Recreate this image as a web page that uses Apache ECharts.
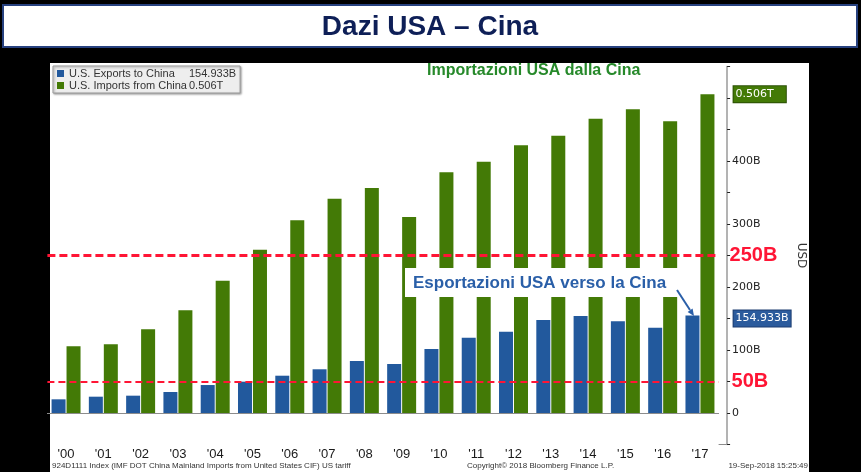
<!DOCTYPE html>
<html>
<head>
<meta charset="utf-8">
<script src="https://cdn.jsdelivr.net/npm/echarts@6/dist/echarts.min.js"></script>
<style>
  html, body { margin: 0; padding: 0; background: #000; }
  #main { width: 861px; height: 472px; }
</style>
</head>
<body>
<div id="main"></div>
<script>
// values, billions of USD
var years = ["'00", "'01", "'02", "'03", "'04", "'05", "'06", "'07", "'08", "'09",
             "'10", "'11", "'12", "'13", "'14", "'15", "'16", "'17"];
var exportsToChina = [21.7, 25.9, 27.5, 33.3, 44.4, 49.7, 59.2, 69.4, 82.5, 77.8,
                      101.6, 119.5, 129, 147.6, 154, 145.6, 135.4, 154.933];
var importsFromChina = [106, 109, 133, 163, 210, 259, 306, 340, 357, 311,
                        382, 399, 425, 440, 467, 482, 463, 506];
var tickLabels = [0, 100, 200, 300, 400];
var refLevels = [250, 50];
var lastExport = '154.933B';
var lastImport = '0.506T';

var blue = '#22599d';
var green = '#437a06';
var red = '#ff1535';
var hidden = { color: 'rgba(0,0,0,0)', width: 0 };

var chart = echarts.init(document.getElementById('main'));
chart.setOption({
  backgroundColor: '#000',
  animation: false,
  textStyle: { fontFamily: 'Liberation Sans' },
  grid: { left: 47.4, right: 142.4, top: 66.5, bottom: 27.5 },
  legend: {
    left: 53,
    top: 66,
    orient: 'vertical',
    selectedMode: false,
    icon: 'rect',
    itemWidth: 7,
    itemHeight: 7,
    itemGap: 1,
    padding: [2, 4],
    backgroundColor: '#eeeeee',
    borderColor: '#9a9a9a',
    borderWidth: 1,
    shadowColor: 'rgba(0,0,0,0.35)',
    shadowBlur: 2,
    shadowOffsetX: 1,
    shadowOffsetY: 1,
    formatter: function (name) {
      var v = name.indexOf('Exports') >= 0 ? lastExport : lastImport;
      return '{n|' + name + '}{v|' + v + '}';
    },
    textStyle: {
      color: '#333',
      fontSize: 11,
      lineHeight: 11,
      rich: {
        n: { width: 120, fontSize: 11, color: '#333' },
        v: { width: 46, fontSize: 11, color: '#333' }
      }
    },
    data: ['U.S. Exports to China', 'U.S. Imports from China']
  },
  xAxis: {
    type: 'category',
    data: years,
    axisLine: { lineStyle: { color: '#8c8c8c', width: 1 } },
    axisTick: { show: false },
    axisLabel: { color: '#1a1a1a', fontSize: 13, margin: 3 }
  },
  yAxis: {
    type: 'value',
    position: 'right',
    offset: 8.5,
    min: -50,
    max: 550,
    interval: 50,
    splitLine: { show: false },
    axisLine: { show: true, lineStyle: { color: '#9a9a9a', width: 1.5 } },
    axisTick: { show: true, length: 3, lineStyle: { color: '#222' } },
    axisLabel: {
      color: '#222',
      fontSize: 11,
      fontFamily: 'DejaVu Sans',
      margin: 5,
      formatter: function (v) {
        if (tickLabels.indexOf(v) < 0) return '';
        return v === 0 ? '0' : v + 'B';
      }
    },
    name: 'USD',
    nameLocation: 'middle',
    nameRotate: -90,
    nameGap: 68,
    nameTextStyle: { color: '#333', fontSize: 12, fontFamily: 'DejaVu Sans' }
  },
  series: [{
    name: 'U.S. Exports to China',
    type: 'bar',
    data: exportsToChina,
    barWidth: 14,
    barGap: '7%',
    itemStyle: { color: blue },
    markLine: {
      silent: true,
      symbol: ['none', 'none'],
      lineStyle: hidden,
      label: {
        position: 'end',
        distance: 15,
        offset: [0, 3],
        formatter: lastExport,
        color: '#fff',
        fontSize: 11,
        fontFamily: 'DejaVu Sans',
        backgroundColor: '#2b5b9d',
        borderColor: '#1c3d70',
        borderWidth: 1,
        padding: [3, 2, 2, 2]
      },
      data: [{ yAxis: exportsToChina[exportsToChina.length - 1] }]
    }
  }, {
    name: 'U.S. Imports from China',
    type: 'bar',
    data: importsFromChina,
    barWidth: 14,
    itemStyle: { color: green },
    markLine: {
      silent: true,
      symbol: ['none', 'none'],
      data: [{
        yAxis: importsFromChina[importsFromChina.length - 1],
        lineStyle: hidden,
        label: {
          position: 'end',
          distance: 15,
          formatter: lastImport,
          color: '#fff',
          fontSize: 11,
          fontFamily: 'DejaVu Sans',
          backgroundColor: green,
          borderColor: '#2a4f04',
          borderWidth: 1,
          padding: [3, 12, 2, 2]
        }
      }, {
        yAxis: refLevels[0],
        lineStyle: { color: red, width: 3, type: [8, 4] },
        label: { position: 'end', distance: 11, formatter: refLevels[0] + 'B', color: red, fontSize: 20, fontWeight: 'bold' }
      }, {
        yAxis: refLevels[1],
        lineStyle: { color: red, width: 2, type: [7, 4] },
        label: { position: 'end', distance: 13, formatter: refLevels[1] + 'B', color: red, fontSize: 20, fontWeight: 'bold' }
      }]
    }
  }],
  graphic: [
    { type: 'rect', z: -1, shape: { x: 50, y: 63, width: 759, height: 409 }, style: { fill: '#fff' } },
    { type: 'rect', shape: { x: 3, y: 5, width: 854, height: 42 }, style: { fill: '#fff', stroke: '#27417f', lineWidth: 2 } },
    { type: 'text', style: { text: 'Dazi USA – Cina', x: 430, y: 27, textAlign: 'center', textVerticalAlign: 'middle',
        font: 'bold 28px "Liberation Sans Narrow", "Liberation Sans"', fill: '#0e1f57' } },
    { type: 'text', style: { text: 'Importazioni USA dalla Cina', x: 427, y: 71, textVerticalAlign: 'middle',
        font: 'bold 16px "Liberation Sans"', fill: '#26892a' } },
    { type: 'line', shape: { x1: 718.6, y1: 444.5, x2: 727, y2: 444.5 }, style: { stroke: '#8c8c8c', lineWidth: 1 } },
    { type: 'rect', z: 50, shape: { x: 405, y: 268, width: 293, height: 29 }, style: { fill: '#fff' } },
    { type: 'text', z: 51, style: { text: 'Esportazioni USA verso la Cina', x: 413, y: 283, textVerticalAlign: 'middle',
        font: 'bold 17px "Liberation Sans"', fill: '#2a5fa8' } },
    { type: 'line', z: 51, shape: { x1: 677, y1: 290, x2: 690, y2: 310 }, style: { stroke: '#2a5fa8', lineWidth: 2 } },
    { type: 'polygon', z: 51, shape: { points: [[694, 316], [692.6, 308.6], [687.6, 311.9]] }, style: { fill: '#2a5fa8' } },
    { type: 'text', style: { text: '924D1111 Index (IMF DOT China Mainland Imports from United States CIF) US tariff', x: 52, y: 466,
        textVerticalAlign: 'middle', font: '8px "Liberation Sans"', fill: '#333' } },
    { type: 'text', style: { text: 'Copyright© 2018 Bloomberg Finance L.P.', x: 467, y: 466,
        textVerticalAlign: 'middle', font: '8px "Liberation Sans"', fill: '#333' } },
    { type: 'text', style: { text: '19-Sep-2018 15:25:49', x: 808, y: 466, textAlign: 'right',
        textVerticalAlign: 'middle', font: '8px "Liberation Sans"', fill: '#333' } }
  ]
});
</script>
</body>
</html>
